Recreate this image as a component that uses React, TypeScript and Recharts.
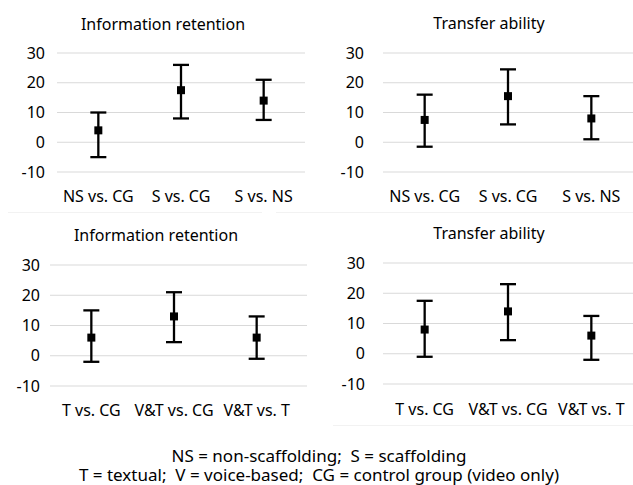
import React from "react";
import { ComposedChart, Line, XAxis, YAxis, CartesianGrid, ErrorBar } from "recharts";

const catsScaffold = ["NS vs. CG", "S vs. CG", "S vs. NS"];
const catsVoice = ["T vs. CG", "V&T vs. CG", "V&T vs. T"];
const yTicks = [-10, 0, 10, 20, 30];

const retScaffoldMean = [4, 17.5, 14];
const retScaffoldLow = [-5, 8, 7.5];
const retScaffoldHigh = [10, 26, 21];

const trScaffoldMean = [7.5, 15.5, 8];
const trScaffoldLow = [-1.5, 6, 1];
const trScaffoldHigh = [16, 24.5, 15.5];

const retVoiceMean = [6, 13, 6];
const retVoiceLow = [-2, 4.5, -1];
const retVoiceHigh = [15, 21, 13];

const trVoiceMean = [8, 14, 6];
const trVoiceLow = [-1, 4.5, -2];
const trVoiceHigh = [17.5, 23, 12.5];

const FONT = "'Noto Sans', 'Open Sans', sans-serif";
const FS = 16;

function build(cats: string[], mean: number[], low: number[], high: number[]) {
  return cats.map((c, i) => ({
    name: c,
    value: mean[i],
    err: [mean[i] - low[i], high[i] - mean[i]],
  }));
}

const SquareDot = (props: any) => {
  const { cx, cy } = props;
  if (cx == null || cy == null) return null;
  return <rect x={cx - 4} y={cy - 4} width={8} height={8} fill="#000" />;
};

type PanelProps = {
  left: number;
  top: number;
  width: number;
  height: number;
  title: string;
  titleX: number;
  titleY: number;
  data: any[];
  margin: { top: number; right: number; bottom: number; left: number };
  yAxisWidth: number;
  yTickMargin: number;
  xTickMargin: number;
  xPadRight: number;
};

function Panel(p: PanelProps) {
  return (
    <div style={{ position: "absolute", left: p.left, top: p.top, width: p.width, height: p.height }}>
      <ComposedChart width={p.width} height={p.height} data={p.data} margin={p.margin}>
        <CartesianGrid horizontal vertical={false} stroke="#d9d9d9" strokeWidth={1} />
        <XAxis
          dataKey="name"
          scale="band"
          axisLine={false}
          tickLine={false}
          tickSize={0}
          tickMargin={p.xTickMargin}
          height={20}
          interval={0}
          padding={{ left: 0, right: p.xPadRight }}
          tick={{ fill: "#000", fontSize: FS, fontFamily: FONT }}
        />
        <YAxis
          domain={[-10, 30]}
          ticks={yTicks}
          type="number"
          allowDataOverflow
          axisLine={false}
          tickLine={false}
          tickSize={0}
          tickMargin={p.yTickMargin}
          width={p.yAxisWidth}
          tick={{ fill: "#000", fontSize: FS, fontFamily: FONT }}
        />
        <Line
          dataKey="value"
          stroke="none"
          isAnimationActive={false}
          dot={<SquareDot />}
          activeDot={false}
          legendType="none"
        >
          <ErrorBar dataKey="err" direction="y" width={8} strokeWidth={2.3} stroke="#000" />
        </Line>
        <text
          x={p.titleX}
          y={p.titleY}
          textAnchor="middle"
          dominantBaseline="central"
          fontSize={FS}
          fontFamily={FONT}
          fill="#000"
        >
          {p.title}
        </text>
      </ComposedChart>
    </div>
  );
}

export default function App() {
  return (
    <div
      style={{
        position: "absolute",
        left: 0,
        top: 0,
        width: 633,
        height: 485,
        background: "#fff",
        fontFamily: FONT,
        overflow: "hidden",
      }}
    >
      <Panel
        left={0}
        top={0}
        width={316}
        height={210}
        title="Information retention"
        titleX={163}
        titleY={24}
        data={build(catsScaffold, retScaffoldMean, retScaffoldLow, retScaffoldHigh)}
        margin={{ top: 53, right: 11, bottom: 18, left: 0 }}
        yAxisWidth={57}
        yTickMargin={12}
        xTickMargin={19}
        xPadRight={0}
      />
      <Panel
        left={316}
        top={0}
        width={317}
        height={210}
        title="Transfer ability"
        titleX={173}
        titleY={23}
        data={build(catsScaffold, trScaffoldMean, trScaffoldLow, trScaffoldHigh)}
        margin={{ top: 53, right: 0, bottom: 18, left: 0 }}
        yAxisWidth={67}
        yTickMargin={19}
        xTickMargin={19}
        xPadRight={0}
      />
      <div style={{ position: "absolute", left: 8, top: 212, width: 254, height: 1, background: "#f2f2f2" }} />
      <div style={{ position: "absolute", left: 276, top: 212, width: 357, height: 1, background: "#f2f2f2" }} />
      <Panel
        left={0}
        top={210}
        width={316}
        height={210}
        title="Information retention"
        titleX={156}
        titleY={25}
        data={build(catsVoice, retVoiceMean, retVoiceLow, retVoiceHigh)}
        margin={{ top: 55, right: 9, bottom: 14, left: 0 }}
        yAxisWidth={50}
        yTickMargin={10}
        xTickMargin={19}
        xPadRight={9}
      />
      <Panel
        left={316}
        top={210}
        width={317}
        height={210}
        title="Transfer ability"
        titleX={173}
        titleY={23}
        data={build(catsVoice, trVoiceMean, trVoiceLow, trVoiceHigh)}
        margin={{ top: 53, right: 0, bottom: 16, left: 0 }}
        yAxisWidth={67}
        yTickMargin={18}
        xTickMargin={20}
        xPadRight={0}
      />
      <div style={{ position: "absolute", left: 333, top: 425, width: 300, height: 1, background: "#f2f2f2" }} />
      <div
        style={{
          position: "absolute",
          left: 5,
          top: 446,
          width: 628,
          textAlign: "center",
          fontSize: 17,
          lineHeight: "19px",
          color: "#000",
          whiteSpace: "pre",
        }}
      >
        {"NS = non-scaffolding;  S = scaffolding\nT = textual;  V = voice-based;  CG = control group (video only)"}
      </div>
    </div>
  );
}
